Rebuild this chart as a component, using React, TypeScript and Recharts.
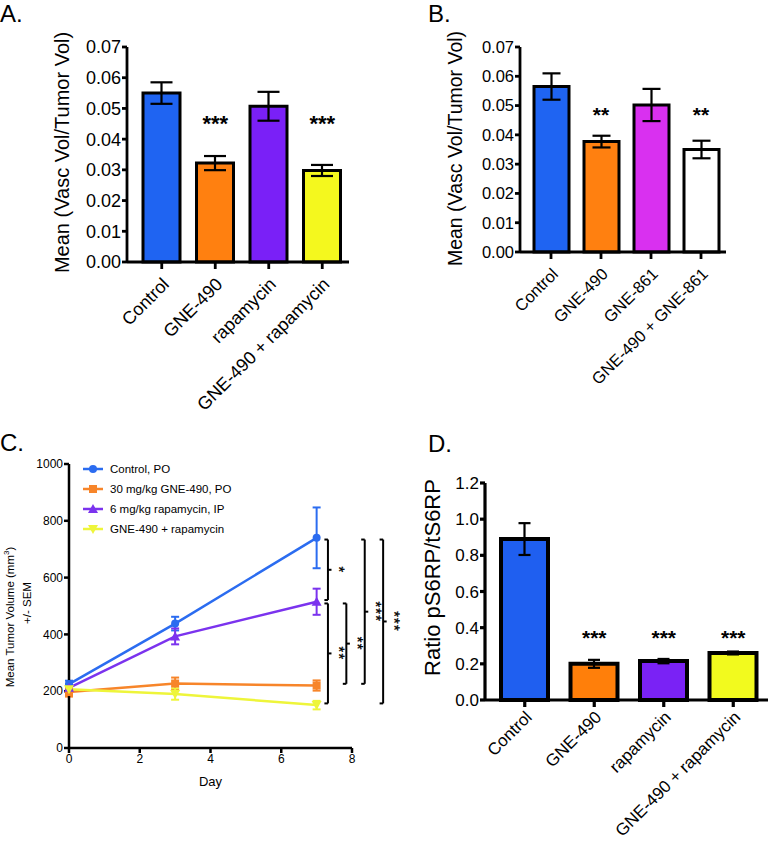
import React from 'react';
import {
  BarChart, Bar, LineChart, Line, XAxis, YAxis, ErrorBar, Cell, Label,
  ReferenceDot, ReferenceLine, Legend,
} from 'recharts';

const FONT = '"Liberation Sans", Arial, Helvetica, sans-serif';

// A. vascular volume
const groupsA = ['Control', 'GNE-490', 'rapamycin', 'GNE-490 + rapamycin'];
const meanA = [0.055, 0.0322, 0.0507, 0.0298];
const semA = [0.0035, 0.0023, 0.0047, 0.0018];
const starsA = ['', '***', '', '***'];
const colorsA = ['#1f64f2', '#ff8010', '#7a20f7', '#f4f81e'];

// B. vascular volume, GNE-861
const groupsB = ['Control', 'GNE-490', 'GNE-861', 'GNE-490 + GNE-861'];
const meanB = [0.0565, 0.0377, 0.0502, 0.035];
const semB = [0.0045, 0.002, 0.0055, 0.003];
const starsB = ['', '**', '', '**'];
const colorsB = ['#1f64f2', '#ff8010', '#d930f0', '#ffffff'];

const ticksAB = [0, 0.01, 0.02, 0.03, 0.04, 0.05, 0.06, 0.07];

// C. tumor growth
const days = [0, 3, 7];
const controlMean = [225, 438, 740];
const controlSem = [12, 24, 107];
const gne490Mean = [197, 227, 220];
const gne490Sem = [16, 21, 18];
const rapaMean = [212, 393, 515];
const rapaSem = [13, 28, 46];
const comboMean = [207, 190, 151];
const comboSem = [12, 20, 15];

const seriesC = [
  { key: 'control', name: 'Control, PO', color: '#2b6cf0', shape: 'circle', mean: controlMean, sem: controlSem },
  { key: 'gne490', name: '30 mg/kg GNE-490, PO', color: '#f7852a', shape: 'square', mean: gne490Mean, sem: gne490Sem },
  { key: 'rapa', name: '6 mg/kg rapamycin, IP', color: '#7b33ee', shape: 'up', mean: rapaMean, sem: rapaSem },
  { key: 'combo', name: 'GNE-490 + rapamycin', color: '#eef53a', shape: 'down', mean: comboMean, sem: comboSem },
];

// day 7 comparisons (lane = which bracket column)
const comparisons = [
  { from: 'control', to: 'rapa', label: '*', lane: 0 },
  { from: 'rapa', to: 'combo', label: '**', lane: 0 },
  { from: 'rapa', to: 'gne490', label: '**', lane: 1 },
  { from: 'control', to: 'gne490', label: '***', lane: 2 },
  { from: 'control', to: 'combo', label: '***', lane: 3 },
];

// D. pS6RP / tS6RP
const meanD = [0.89, 0.2, 0.215, 0.26];
const semD = [0.088, 0.022, 0.012, 0.008];
const starsD = ['', '***', '***', '***'];
const colorsD = ['#1f5ff0', '#ff7f0a', '#7a22f5', '#f2fa1e'];

const rowsC = days.map((d, i) => {
  const row: any = { day: d };
  seriesC.forEach((s) => {
    row[s.key] = s.mean[i];
    row[s.key + 'Sem'] = s.sem[i];
  });
  return row;
});

function SlantTick(props: any) {
  const { x, y, payload, fs, off } = props;
  const tx = x + 4;
  const ty = y + off;
  return (
    <text x={tx} y={ty} dy="0.35em" textAnchor="end" transform={`rotate(-45 ${tx} ${ty})`}
      fontSize={fs} fontFamily={FONT} fill="#000">
      {payload.value}
    </text>
  );
}

const vTitle = (text: string, cx: number, shift: number, size: number) => (props: any) => {
  const vb = props.viewBox;
  const x = vb.x + cx;
  const y = vb.y + vb.height / 2 + shift;
  return (
    <text x={x} y={y} transform={`rotate(-90 ${x} ${y})`} textAnchor="middle" dominantBaseline="central"
      fontSize={size} fontFamily={FONT} fill="#000">
      {text}
    </text>
  );
};

// text centred on a reference dot
const dotText = (text: string, size: number, weight: string) => (props: any) => {
  const vb = props.viewBox;
  const x = vb.x + (vb.width || 0) / 2;
  const y = vb.y + (vb.height || 0) / 2;
  return (
    <text x={x} y={y} textAnchor="middle" dominantBaseline="central" fontSize={size} fontWeight={weight}
      fontFamily={FONT} fill="#000" stroke="none">
      {text}
    </text>
  );
};

// asterisks turned to run down beside a bracket
const turnedStars = (text: string) => (props: any) => {
  const vb = props.viewBox;
  const x = vb.x + (vb.width || 0) / 2;
  const y = vb.y + (vb.height || 0) / 2;
  return (
    <text x={x} y={y} transform={`rotate(89.5 ${x} ${y})`} textAnchor="middle" dominantBaseline="central"
      fontSize={15} letterSpacing={1} fontFamily={FONT} fill="#000" stroke="#000" strokeWidth={0.35}>
      {text}
    </text>
  );
};

function BarPanel(p: any) {
  const data = p.groups.map((g: string, i: number) => ({ group: g, mean: p.means[i], sem: p.sems[i] }));
  const axis = { stroke: '#000', strokeWidth: p.axisW };
  return (
    <BarChart width={p.width} height={p.height} data={data} margin={p.margin}>
      <XAxis dataKey="group" height={p.xAxisHeight} padding={{ left: p.xPad, right: 0 }} interval={0}
        tick={(pr: any) => <SlantTick {...pr} fs={p.fs} off={p.labelOff} />} tickSize={7} tickMargin={2}
        tickLine={axis} axisLine={axis} />
      <YAxis width={p.yAxisWidth} domain={[0, p.yMax]} ticks={p.yTicks} tickFormatter={p.fmt}
        tickSize={5} tickMargin={1} tickLine={axis} axisLine={axis}
        tick={{ fill: '#000', fontSize: p.fs, fontFamily: FONT }}>
        <Label content={vTitle(p.title, p.titleX, p.titleShift, p.titleSize)} />
      </YAxis>
      {p.boxed && (
        <XAxis xAxisId="top" orientation="top" dataKey="group" height={0} tick={false} tickLine={false} axisLine={axis} />
      )}
      {p.boxed && (
        <YAxis yAxisId="right" orientation="right" width={0} domain={[0, p.yMax]} tick={false} tickLine={false} axisLine={axis} />
      )}
      <Bar dataKey="mean" barSize={p.barSize} stroke="#000" strokeWidth={p.barStroke} isAnimationActive={false}>
        {data.map((_: any, i: number) => <Cell key={i} fill={p.colors[i]} />)}
        <ErrorBar dataKey="sem" width={p.capW} stroke="#000" strokeWidth={2.2} direction="y" />
      </Bar>
      {p.stars.map((s: string, i: number) => s ? (
        <ReferenceDot key={i} x={p.groups[i]} y={p.starY} r={0} fill="none" stroke="none"
          label={dotText(s, p.starSize, 'bold')} />
      ) : null)}
    </BarChart>
  );
}

function Marker({ cx, cy, shape, color }: any) {
  if (cx == null || cy == null) return null;
  if (shape === 'circle') return <circle cx={cx} cy={cy} r={4} fill={color} />;
  if (shape === 'square') return <rect x={cx - 4} y={cy - 4} width={8} height={8} fill={color} />;
  if (shape === 'up') return <polygon points={`${cx},${cy - 5} ${cx - 5},${cy + 4} ${cx + 5},${cy + 4}`} fill={color} />;
  return <polygon points={`${cx},${cy + 5} ${cx - 5},${cy - 4} ${cx + 5},${cy - 4}`} fill={color} />;
}

function LegendC() {
  return (
    <div style={{ fontFamily: FONT, fontSize: 11.5, color: '#000' }}>
      {seriesC.map((s) => (
        <div key={s.key} style={{ display: 'flex', alignItems: 'center', height: 20 }}>
          <svg width={26} height={12} style={{ marginRight: 2 }}>
            <line x1={1} y1={6} x2={21} y2={6} stroke={s.color} strokeWidth={2.5} />
            <Marker cx={11} cy={6} shape={s.shape} color={s.color} />
          </svg>
          <span>{s.name}</span>
        </div>
      ))}
    </div>
  );
}

function GrowthPanel() {
  const axis = { stroke: '#000', strokeWidth: 2.5 };
  const last = days.length - 1;
  const day7 = (k: string) => seriesC.find((s) => s.key === k)!.mean[last];
  const marks: any[] = [];
  comparisons.forEach((c, i) => {
    const bx = 7.32 + c.lane * 0.52;
    const d = 0.1;
    const top = day7(c.from) - 6;
    const bot = day7(c.to) + 6;
    const mid = (top + bot) / 2;
    const line = { stroke: '#000', strokeWidth: 2, ifOverflow: 'visible' as const };
    marks.push(<ReferenceLine key={`v${i}`} segment={[{ x: bx, y: top }, { x: bx, y: bot }]} {...line} />);
    marks.push(<ReferenceLine key={`t${i}`} segment={[{ x: bx - d, y: top }, { x: bx, y: top }]} {...line} />);
    marks.push(<ReferenceLine key={`b${i}`} segment={[{ x: bx - d, y: bot }, { x: bx, y: bot }]} {...line} />);
    marks.push(<ReferenceLine key={`m${i}`} segment={[{ x: bx, y: mid }, { x: bx + d, y: mid }]} {...line} />);
    marks.push(
      <ReferenceDot key={`s${i}`} x={bx + 0.33} y={mid} r={0} fill="none" stroke="none" ifOverflow="visible"
        label={turnedStars(c.label)} />
    );
  });
  return (
    <LineChart width={420} height={426} data={rowsC} margin={{ top: 44, right: 68, bottom: 0, left: 0 }}>
      <XAxis type="number" dataKey="day" domain={[0, 8]} ticks={[0, 2, 4, 6, 8]} height={98}
        tickSize={5} tickMargin={1} tickLine={axis} axisLine={axis}
        tick={{ fill: '#000', fontSize: 12, fontFamily: FONT }}>
        <Label content={(pr: any) => (
          <text x={pr.viewBox.x + pr.viewBox.width / 2} y={pr.viewBox.y + 33} textAnchor="middle"
            dominantBaseline="central" fontSize={13} fontFamily={FONT} fill="#000">Day</text>
        )} />
      </XAxis>
      <YAxis width={69} domain={[0, 1000]} ticks={[0, 200, 400, 600, 800, 1000]}
        tickSize={5} tickMargin={1} tickLine={axis} axisLine={axis}
        tick={{ fill: '#000', fontSize: 12, fontFamily: FONT }}>
        <Label content={(pr: any) => {
          const vb = pr.viewBox;
          const cy = vb.y + vb.height / 2;
          const x1 = vb.x + 10;
          const y1 = cy + 11;
          const x2 = vb.x + 27;
          const y2 = cy - 3;
          return (
            <g fontFamily={FONT} fontSize={11.5} fill="#000">
              <text x={x1} y={y1} transform={`rotate(-90 ${x1} ${y1})`} textAnchor="middle" dominantBaseline="central">
                Mean Tumor Volume (mm<tspan fontSize={8} dy={-4}>3</tspan><tspan dy={4}>)</tspan>
              </text>
              <text x={x2} y={y2} transform={`rotate(-90 ${x2} ${y2})`} textAnchor="middle" dominantBaseline="central">
                +/- SEM
              </text>
            </g>
          );
        }} />
      </YAxis>
      <Legend layout="vertical" align="center" verticalAlign="middle" content={() => <LegendC />}
        wrapperStyle={{ left: 82, top: 39, width: 220 }} />
      {seriesC.map((s) => (
        <Line key={s.key} dataKey={s.key} name={s.name} type="linear" stroke={s.color} strokeWidth={2.5}
          dot={(pr: any) => <Marker key={pr.index} cx={pr.cx} cy={pr.cy} shape={s.shape} color={s.color} />}
          activeDot={false} isAnimationActive={false}>
          <ErrorBar dataKey={s.key + 'Sem'} width={4} stroke={s.color} strokeWidth={2} direction="y" />
        </Line>
      ))}
      {marks}
    </LineChart>
  );
}

const panelLabel = (text: string, left: number, top: number) => (
  <div style={{ position: 'absolute', left, top, fontFamily: FONT, fontSize: 24, lineHeight: 1, color: '#000' }}>{text}</div>
);

export default function App() {
  return (
    <div style={{ position: 'absolute', left: 0, top: 0, width: 771, height: 846, background: '#fff', fontFamily: FONT }}>
      {panelLabel('A.', 0, 2)}
      {panelLabel('B.', 428, 2)}
      {panelLabel('C.', 0, 431)}
      {panelLabel('D.', 428, 432)}
      <div style={{ position: 'absolute', left: 0, top: 0 }}>
        <BarPanel width={360} height={420} margin={{ top: 47, right: 11, bottom: 0, left: 0 }}
          xAxisHeight={158} yAxisWidth={127} xPad={8} groups={groupsA} means={meanA} sems={semA}
          stars={starsA} colors={colorsA} yMax={0.07} yTicks={ticksAB} fmt={(v: number) => v.toFixed(2)}
          fs={18} labelOff={10} title="Mean (Vasc Vol/Tumor Vol)" titleX={62} titleShift={-2} titleSize={20}
          boxed axisW={2.8} barSize={37} barStroke={3} capW={11} starY={0.045} starSize={22} />
      </div>
      <div style={{ position: 'absolute', left: 385, top: 0 }}>
        <BarPanel width={350} height={420} margin={{ top: 47, right: 9, bottom: 0, left: 0 }}
          xAxisHeight={168} yAxisWidth={135} xPad={6} groups={groupsB} means={meanB} sems={semB}
          stars={starsB} colors={colorsB} yMax={0.07} yTicks={ticksAB} fmt={(v: number) => v.toFixed(2)}
          fs={16.5} labelOff={10} title="Mean (Vasc Vol/Tumor Vol)" titleX={70} titleShift={-1} titleSize={19.5}
          boxed axisW={2.8} barSize={35} barStroke={3} capW={9} starY={0.0468} starSize={21} />
      </div>
      <div style={{ position: 'absolute', left: 0, top: 420 }}>
        <GrowthPanel />
      </div>
      <div style={{ position: 'absolute', left: 385, top: 420 }}>
        <BarPanel width={386} height={426} margin={{ top: 63, right: 3, bottom: 0, left: 0 }}
          xAxisHeight={146} yAxisWidth={100} xPad={5} groups={groupsA} means={meanD} sems={semD}
          stars={starsD} colors={colorsD} yMax={1.2} yTicks={[0, 0.2, 0.4, 0.6, 0.8, 1.0, 1.2]}
          fmt={(v: number) => v.toFixed(1)} fs={17} labelOff={5} title="Ratio pS6RP/tS6RP" titleX={47} titleShift={-14}
          titleSize={22} axisW={3.2} barSize={47} barStroke={4} capW={6} starY={0.343} starSize={21} />
      </div>
    </div>
  );
}
